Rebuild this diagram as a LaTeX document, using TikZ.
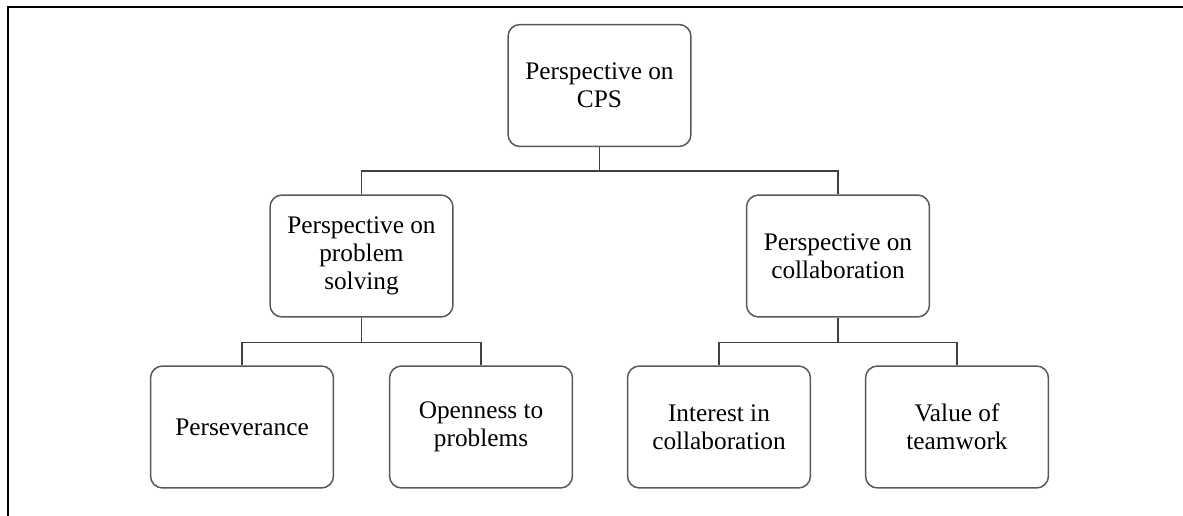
\documentclass[tikz,border=0pt]{standalone}
\usepackage{fontspec}
\setmainfont{Liberation Serif}
\usetikzlibrary{positioning,calc}

\begin{document}
\begin{tikzpicture}[x=0.02cm,y=-0.02cm,line width=0.85pt,
  main node/.style={rectangle,rounded corners=2.4mm,draw=black!65,fill=white,
  align=center,font=\fontsize{14.4pt}{15.8pt}\selectfont,
  minimum width=3.66cm,minimum height=2.44cm,inner sep=2pt},
  link/.style={draw=black!75}]

  \useasboundingbox (0,0) rectangle (1183,516);
  \draw[line width=1.2pt] (1183,7) -- (8,7) -- (8,516);

  \node[main node] (cps) at (599.5,85.5) {Perspective on\\CPS};
  \node[main node] (probsolv) at (361.5,256) {Perspective on\\problem\\solving};
  \node[main node] (collab) at (838,256) {Perspective on\\collaboration};
  \node[main node] (persev) at (242,427) {Perseverance};
  \node[main node] (openness) at (481,427) {Openness to\\problems};
  \node[main node] (interest) at (719,427) {Interest in\\collaboration};
  \node[main node] (teamwork) at (957,427) {Value of\\teamwork};

  \draw[link] (cps.south) -- ++(0,24) -| (probsolv.north);
  \draw[link] (cps.south) -- ++(0,24) -| (collab.north);
  \draw[link] (probsolv.south) -- ++(0,25) -| (persev.north);
  \draw[link] (probsolv.south) -- ++(0,25) -| (openness.north);
  \draw[link] (collab.south) -- ++(0,25) -| (interest.north);
  \draw[link] (collab.south) -- ++(0,25) -| (teamwork.north);
\end{tikzpicture}
\end{document}
